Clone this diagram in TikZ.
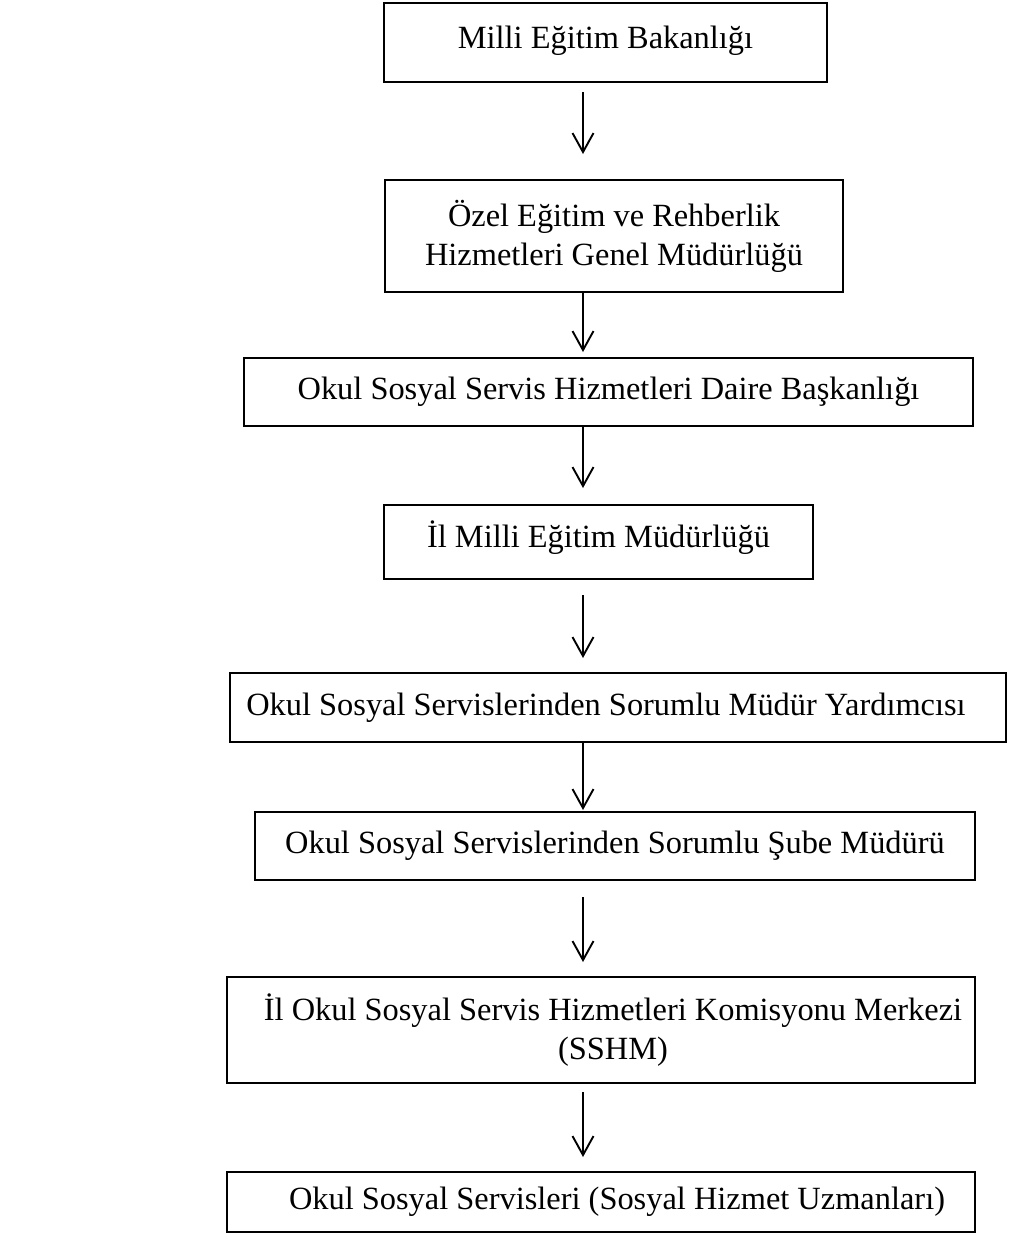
\documentclass[tikz,border=0pt]{standalone}
\usepackage{fontspec}
\setmainfont{Liberation Serif}
\usetikzlibrary{arrows.meta}

\begin{document}
\begin{tikzpicture}[x=0.5pt,y=-0.5pt,
box/.style={draw,line width=1pt,align=center,inner sep=0pt,font=\fontsize{16.2}{19.5}\selectfont},
arr/.style={line width=0.95pt,-{Straight Barb[length=9.5pt,width=10.5pt,line width=0.95pt]}}]
\useasboundingbox(0,0)rectangle(1009,1233);
\node[box,minimum width=221.5pt,minimum height=39.5pt,text depth=5pt](b1)at(605.5,42.5){Milli Eğitim Bakanlığı};
\node[box,minimum width=229pt,minimum height=56pt](b2)at(614,236){Özel Eğitim ve Rehberlik\\Hizmetleri Genel Müdürlüğü};
\node[box,minimum width=364.5pt,minimum height=34pt](b3)at(608.5,392){Okul Sosyal Servis Hizmetleri Daire Başkanlığı};
\node[box,minimum width=214.5pt,minimum height=37pt,text depth=8pt](b4)at(598.5,542){İl Milli Eğitim Müdürlüğü};
\node[box,minimum width=388pt,minimum height=34.5pt](b5)at(618,707.5){Okul Sosyal Servislerinden Sorumlu Müdür Yardımcısı\hspace*{12pt}};
\node[box,minimum width=360pt,minimum height=34pt](b6)at(615,846){Okul Sosyal Servislerinden Sorumlu Şube Müdürü};
\node[box,minimum width=374pt,minimum height=53pt](b7)at(601,1030){\hspace*{12pt}İl Okul Sosyal Servis Hizmetleri Komisyonu Merkezi\\\hspace*{12pt}(SSHM)};
\node[box,minimum width=374pt,minimum height=30pt](b8)at(601,1202){\hspace*{16pt}Okul Sosyal Servisleri (Sosyal Hizmet Uzmanları)};
% arrows
\coordinate(s1)at(583,92);\coordinate(e1)at(583,154);
\coordinate(s2)at(583,292);\coordinate(e2)at(583,352);
\coordinate(s3)at(583,426);\coordinate(e3)at(583,488);
\coordinate(s4)at(583,595);\coordinate(e4)at(583,658);
\coordinate(s5)at(583,742);\coordinate(e5)at(583,810);
\coordinate(s6)at(583,897);\coordinate(e6)at(583,962);
\coordinate(s7)at(583,1092);\coordinate(e7)at(583,1157);
\foreach \i in {1,...,7}
\draw[arr](s\i)--(e\i);
\end{tikzpicture}
\end{document}
